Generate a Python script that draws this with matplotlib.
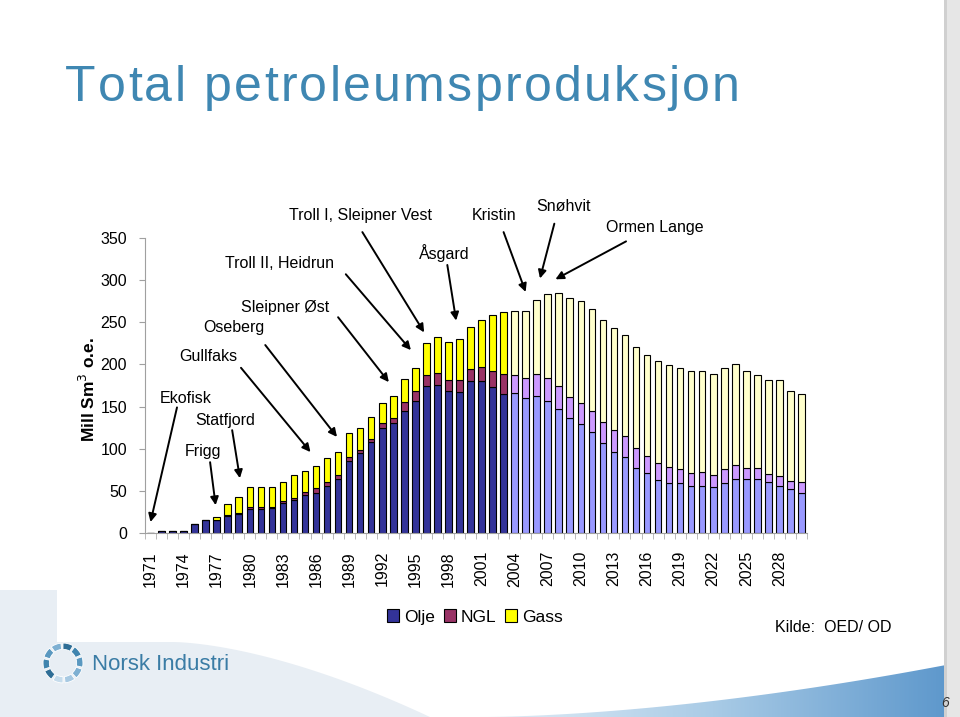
import numpy as np
import matplotlib.pyplot as plt
from matplotlib.colors import LinearSegmentedColormap
from matplotlib.patches import Polygon, Rectangle, Wedge, Patch

plt.rcParams['font.family'] = ['Liberation Sans', 'DejaVu Sans']

# ---------------------------------------------------------
# Data (mill Sm3 o.e.)
# ---------------------------------------------------------
years = np.arange(1971, 2031)
olje = [0.3, 1.9, 1.9, 2.0, 10.7, 16.0, 15.4, 20.0, 23.0, 28.0,
        28.0, 29.3, 36.0, 39.0, 45.0, 48.0, 56.0, 64.0, 85.0, 94.5,
        107.6, 124.0, 130.0, 145.0, 157.0, 174.0, 176.0, 168.5, 167.6, 180.7,
        180.7, 172.8, 164.5, 165.7, 159.8, 162.9, 156.6, 147.0, 136.0, 129.3,
        119.4, 106.4, 96.4, 89.8, 77.5, 70.8, 62.9, 59.7, 59.7, 56.1,
        56.1, 54.6, 59.7, 63.7, 63.7, 63.7, 60.1, 56.1, 52.6, 47.8]
ngl = [0, 0, 0, 0, 0, 0, 0.4, 0.8, 0.8, 3.0,
       2.5, 2.0, 2.4, 3.0, 4.0, 5.0, 5.0, 5.0, 5.0, 3.5,
       4.4, 6.0, 6.0, 10.0, 11.0, 13.0, 13.5, 13.0, 14.0, 13.3,
       16.6, 19.8, 24.1, 21.7, 24.5, 25.7, 27.7, 27.4, 25.7, 25.3,
       25.7, 25.6, 25.8, 25.2, 23.7, 20.9, 20.5, 18.9, 15.9, 14.7,
       16.3, 14.2, 15.9, 17.0, 13.8, 13.0, 9.5, 11.5, 9.4, 13.1]
gass = [0, 0, 0, 0, 0, 0, 2.8, 14.2, 19.2, 23.0,
        23.5, 22.7, 22.6, 27.0, 25.0, 26.0, 28.0, 27.0, 29.0, 26.0,
        26.0, 24.5, 26.0, 28.0, 28.0, 39.0, 43.5, 45.0, 48.4, 50.0,
        55.4, 66.4, 73.4, 76.3, 79.4, 87.8, 98.7, 109.9, 116.7, 120.6,
        120.2, 120.7, 120.6, 119.9, 119.8, 119.5, 120.6, 120.3, 119.8, 121.8,
        120.2, 119.8, 120.1, 119.8, 115.1, 110.7, 111.9, 113.9, 106.1, 103.6]
first_prognose = 2004

felt = [
    # (tekst, tekstpos, pil fra, pil til) i dataenheter (år, verdi)
    ("Ekofisk", (1974.2, 160), (1973.4, 149), (1971.0, 13)),
    ("Statfjord", (1977.8, 134), (1978.4, 122), (1979.1, 65)),
    ("Frigg", (1975.8, 97), (1976.4, 84), (1976.9, 33)),
    ("Gullfaks", (1976.2, 209), (1979.2, 196), (1985.5, 96)),
    ("Oseberg", (1978.6, 244), (1981.4, 223), (1987.9, 114)),
    ("Sleipner Øst", (1983.2, 268), (1988.0, 256), (1992.6, 179)),
    ("Troll II, Heidrun", (1982.7, 320), (1988.7, 307), (1994.6, 217)),
    ("Troll I, Sleipner Vest", (1990.0, 377), (1990.2, 357), (1995.8, 238)),
    ("Åsgard", (1997.6, 332), (1997.9, 318), (1998.7, 252)),
    ("Kristin", (2002.1, 377), (2003.0, 357), (2005.0, 286)),
    ("Snøhvit", (2008.4, 387), (2007.6, 367), (2006.3, 302)),
    ("Ormen Lange", (2016.7, 363), (2014.1, 346), (2007.7, 301)),
]

# ---------------------------------------------------------
# Figur og bakgrunn (lysbilde)
# ---------------------------------------------------------
fig = plt.figure(figsize=(9.6, 7.17), dpi=100)
bg = fig.add_axes([0, 0, 1, 1], zorder=-10)
bg.set_xlim(0, 960)
bg.set_ylim(717, 0)
bg.axis('off')

# lys blaagraa flate nederst til venstre
xs = np.linspace(173, 430, 40)
curve = [(x, 642 + 75 * ((x - 173) / 257) ** 1.6) for x in xs]
bg.add_patch(Polygon([(0, 590), (57, 590), (57, 642)] + curve + [(0, 717)],
                     closed=True, facecolor='#E8EEF4', edgecolor='none'))
# blaa bue nederst til hoyre
xs2 = np.linspace(480, 946, 60)
bue = [(x, 717 - 52 * ((x - 480) / 466) ** 1.7) for x in xs2]
poly = Polygon(bue + [(946, 717)], closed=True, facecolor='none', edgecolor='none')
bg.add_patch(poly)
grad = np.linspace(0, 1, 256).reshape(1, -1)
img = bg.imshow(grad, extent=[480, 946, 717, 660],
                cmap=LinearSegmentedColormap.from_list('bl', ['#E4EEF7', '#A9CBE6', '#5E98CC']),
                aspect='auto', zorder=1)
img.set_clip_path(poly)
# skygge langs hoyre kant
bg.add_patch(Rectangle((946, 0), 14, 717, facecolor='#E6E6E6', edgecolor='none'))
bg.add_patch(Rectangle((944, 0), 3, 717, facecolor='#D0D0D0', edgecolor='none'))

# tittel med litt ekstra bokstavavstand
renderer = fig.canvas.get_renderer()
x = 65
for ch in "Total petroleumsproduksjon":
    t = fig.text(x / 960, 1 - 88 / 717, ch, fontsize=36, color='#3F87B2',
                 va='center', ha='left')
    x += t.get_window_extent(renderer).width + 2.3

# ---------------------------------------------------------
# Diagram
# ---------------------------------------------------------
ax = fig.add_axes([145 / 960, 1 - 533 / 717, 662 / 960, 295 / 717])

prog = years >= first_prognose
c_olje = np.where(prog, '#9999FF', '#333399')
c_ngl = np.where(prog, '#CC99FF', '#993366')
c_gass = np.where(prog, '#FFFFCC', '#FFFF00')

olje = np.array(olje)
ngl = np.array(ngl)
gass = np.array(gass)
ax.bar(years, olje, width=0.6, color=c_olje, edgecolor='black', linewidth=0.8)
ax.bar(years, ngl, width=0.6, bottom=olje, color=c_ngl, edgecolor='black', linewidth=0.8)
ax.bar(years, gass, width=0.6, bottom=olje + ngl, color=c_gass, edgecolor='black', linewidth=0.8)

ax.set_xlim(1970.5, 2030.5)
ax.set_ylim(0, 350)
ax.set_yticks(np.arange(0, 351, 50))
ax.set_xticks(years[::3])
ax.set_xticklabels([str(y) for y in years[::3]], rotation=90)
ax.set_xticks(np.arange(1970.5, 2031, 1), minor=True)
ax.tick_params(axis='y', length=4, color='#A0A0A0', pad=9, labelsize=11.5)
ax.tick_params(axis='x', which='major', length=0, pad=13, labelsize=11.5)
ax.tick_params(axis='x', which='minor', length=4, color='#B0B0B0')
for s in ['top', 'right']:
    ax.spines[s].set_visible(False)
for s in ['left', 'bottom']:
    ax.spines[s].set_color('#A0A0A0')
ax.patch.set_alpha(0)

fig.text(88 / 960, 1 - 390 / 717, "Mill Sm$^3$ o.e.", rotation=90, fontsize=12.5,
         fontweight='bold', ha='center', va='center')

for tekst, tpos, fra, til in felt:
    ax.text(tpos[0], tpos[1], tekst, ha='center', va='center', fontsize=11.5, clip_on=False)
    ax.annotate('', xy=til, xytext=fra,
                arrowprops=dict(arrowstyle='-|>', color='black', lw=1.4,
                                mutation_scale=12, shrinkA=0, shrinkB=0),
                annotation_clip=False)

handles = [Patch(facecolor='#333399', edgecolor='black', linewidth=0.8, label='Olje'),
           Patch(facecolor='#993366', edgecolor='black', linewidth=0.8, label='NGL'),
           Patch(facecolor='#FFFF00', edgecolor='black', linewidth=0.8, label='Gass')]
fig.legend(handles=handles, loc='center', bbox_to_anchor=(475 / 960, 1 - 617 / 717),
           ncol=3, frameon=False, fontsize=12.5, handlelength=0.7, handleheight=0.7,
           handletextpad=0.3, columnspacing=0.5)

fig.text(833 / 960, 1 - 628 / 717, "Kilde:  OED/ OD", fontsize=11.5,
         ha='center', va='center')

# ---------------------------------------------------------
# Logo og sidenummer
# ---------------------------------------------------------
lax = fig.add_axes([42 / 960, 1 - 684 / 717, 42 / 960, 42 / 717])
lax.set_xlim(-1, 1)
lax.set_ylim(-1, 1)
lax.set_aspect('equal')
lax.axis('off')
farger = ['#2F6E96', '#3F84AE', '#5A98C0', '#7EB0D2', '#A7C9E2', '#C6DCEC']
for i in range(10):
    vinkel = 90 - i * 36
    lax.add_patch(Wedge((0, 0), 0.95, vinkel - 30, vinkel, width=0.3,
                        facecolor=farger[i % len(farger)], edgecolor='white', linewidth=0.6))

fig.text(92 / 960, 1 - 664 / 717, "Norsk Industri", fontsize=16,
         color='#3A7CA5', ha='left', va='center')

fig.text(945 / 960, 1 - 703 / 717, "6", fontsize=10, style='italic',
         color='#333333', ha='center', va='center')

fig.savefig('out.png', dpi=100)
